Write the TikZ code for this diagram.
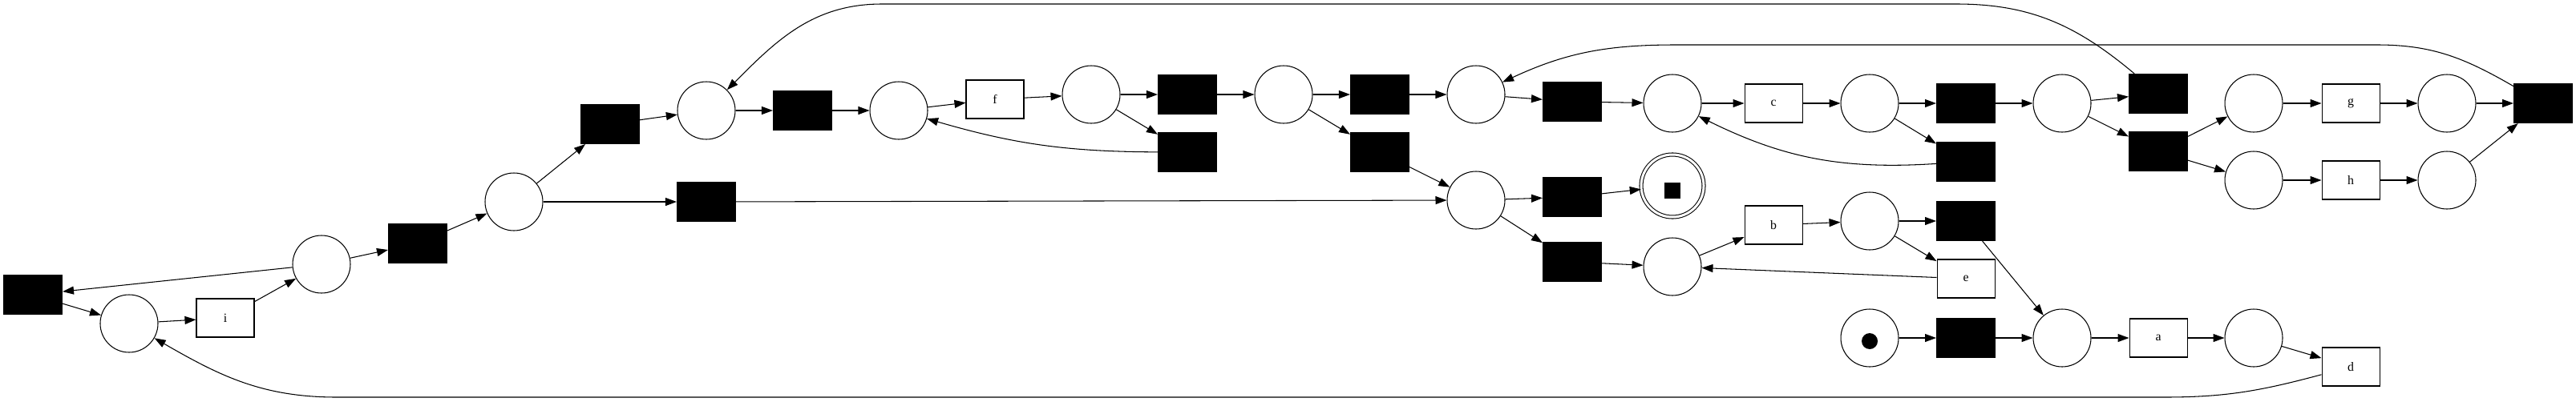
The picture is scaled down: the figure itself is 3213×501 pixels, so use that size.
\documentclass[tikz,border=0pt]{standalone}
\usepackage{fontspec}
\setmainfont{Liberation Serif}
\usepackage{tikz}
\usetikzlibrary{arrows.meta}

\begin{document}
\begin{tikzpicture}[x=0.1mm, y=0.1mm, ->, >={Triangle[length=1.4mm, width=1mm]},
    line width=0.3pt,
    place/.style={circle, draw, fill=white, minimum size=0.72cm, inner sep=0pt},
    silent/.style={rectangle, draw, fill=black, minimum width=0.73cm, minimum height=0.49cm, inner sep=0pt},
    task/.style={rectangle, draw, fill=white, minimum width=0.72cm, minimum height=0.48cm, inner sep=0pt},
    every node/.style={font=\fontsize{4.5}{5}\selectfont}
    ]

    \useasboundingbox (0,0) rectangle (3213,501);

    % places
    \node[place] (p1) at (161,97) {};
    \node[place] (p2) at (401,171) {};
    \node[place] (p3) at (641,249) {};
    \node[place] (p4) at (881,363) {};
    \node[place] (p5) at (1121,363) {};
    \node[place] (p6) at (1361,383) {};
    \node[place] (p7) at (1601,383) {};
    \node[place] (p8) at (1841,383) {};
    \node[place] (p9) at (2086,372) {};
    \node[place] (p10) at (2332,372) {};
    \node[place] (p11) at (2572,372) {};
    \node[place] (p12) at (2811,372) {};
    \node[place] (p13) at (3052,372) {};
    \node[place] (p14) at (2811,276) {};
    \node[place] (p15) at (3052,276) {};
    \node[place] (p16) at (1841,251) {};
    \node[place] (p17) at (2086,168) {};
    \node[place] (p18) at (2332,225) {};
    \node[place] (p19) at (2572,79) {};
    \node[place] (p20) at (2811,79) {};

    \node[place] (pstart) at (2332,79) {};
    \node[circle, fill=black, minimum size=0.2cm, inner sep=0pt] (token) at ([yshift=-0.4mm]pstart.center) {};

    \node[place, double, double distance=0.3mm, minimum size=0.78cm] (pend) at (2086,269) {};
    \node[rectangle, fill=black, minimum size=0.2cm, inner sep=0pt] (mark) at ([yshift=-0.6mm]pend.center) {};

    % silent transitions
    \node[silent] (t0) at (41,133) {};
    \node[silent] (t1) at (521,197) {};
    \node[silent] (t2) at (761,346) {};
    \node[silent] (t3) at (1001,363) {};
    \node[silent] (t4) at (881,249) {};
    \node[silent] (t5) at (1481,383) {};
    \node[silent] (t6) at (1481,311) {};
    \node[silent] (t7) at (1721,383) {};
    \node[silent] (t8) at (1721,311) {};
    \node[silent] (t9) at (1961,374) {};
    \node[silent] (t10) at (2452,372) {};
    \node[silent] (t11) at (2452,299) {};
    \node[silent] (t12) at (1961,255) {};
    \node[silent] (t13) at (1961,174) {};
    \node[silent] (t14) at (2452,225) {};
    \node[silent] (t15) at (2452,79) {};
    \node[silent] (t16) at (2692,384) {};
    \node[silent] (t17) at (2692,312) {};
    \node[silent] (t18) at (3172,372) {};

    % visible transitions
    \node[task] (ta) at (2692,79) {};
    \node[] at (ta.center) {a};
    \node[task] (tb) at (2212,220) {};
    \node[] at (tb.center) {b};
    \node[task] (tc) at (2212,372) {};
    \node[] at (tc.center) {c};
    \node[task] (td) at (2932,43) {};
    \node[] at (td.center) {d};
    \node[task] (te) at (2452,153) {};
    \node[] at (te.center) {e};
    \node[task] (tf) at (1241,377) {};
    \node[] at (tf.center) {f};
    \node[task] (tg) at (2932,372) {};
    \node[] at (tg.center) {g};
    \node[task] (th) at (2932,276) {};
    \node[] at (th.center) {h};
    \node[task] (ti) at (281,104) {};
    \node[] at (ti.center) {i};

    \path
    %left part
    (t0) edge (p1)
    (p2) edge (t0)
    (p1) edge (ti)
    (ti) edge (p2)
    (p2) edge (t1)
    (t1) edge (p3)
    (p3) edge (t2)
    (p3) edge (t4)
    (t2) edge (p4)
    (p4) edge (t3)
    (t3) edge (p5)
    (p5) edge (tf)
    (tf) edge (p6)
    (p6) edge (t5)
    (p6) edge (t6)
    (t6) edge [bend left=8] (p5)
    (t5) edge (p7)
    (p7) edge (t7)
    (p7) edge (t8)
    (t7) edge (p8)
    (t8) edge (p16)
    (t4) edge (p16)
    %upper part
    (p8) edge (t9)
    (t9) edge (p9)
    (p9) edge (tc)
    (tc) edge (p10)
    (p10) edge (t10)
    (p10) edge (t11)
    (t11) edge [bend left=15] (p9)
    (t10) edge (p11)
    (p11) edge (t16)
    (p11) edge (t17)
    (t17) edge (p12)
    (t17) edge (p14)
    (p12) edge (tg)
    (tg) edge (p13)
    (p13) edge (t18)
    (p14) edge (th)
    (th) edge (p15)
    (p15) edge (t18)
    %lower part
    (p16) edge (t12)
    (t12) edge (pend)
    (p16) edge (t13)
    (t13) edge (p17)
    (p17) edge (tb)
    (tb) edge (p18)
    (p18) edge (t14)
    (p18) edge (te)
    (te) edge (p17)
    (t14) edge (p19)
    (pstart) edge (t15)
    (t15) edge (p19)
    (p19) edge (ta)
    (ta) edge (p20)
    (p20) edge (td);

    % long arcs
    \coordinate (top1) at (1100,496);
    \coordinate (top2) at (2440,496);
    \draw (t16) to[out=140, in=0] (top2) -- (top1) to[out=180, in=45] (p4);

    \coordinate (mid1) at (2090,445);
    \coordinate (mid2) at (2965,445);
    \draw (t18) to[out=150, in=0] (mid2) -- (mid1) to[out=180, in=25] (p8);

    \coordinate (bot1) at (420,5);
    \coordinate (bot2) at (2700,5);
    \draw (td) to[out=195, in=0] (bot2) -- (bot1) to[out=180, in=-30] (p1);

\end{tikzpicture}
\end{document}
